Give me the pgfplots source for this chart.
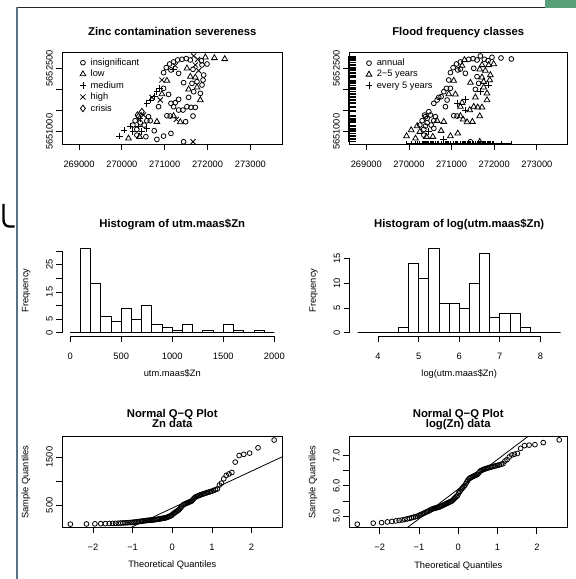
\documentclass[border=0pt]{standalone}
\usepackage{fontspec}
\setmainfont{Liberation Sans}
\usepackage{pgfplots}
\usepackage{pgfplotstable}
\pgfplotsset{compat=1.18}

\definecolor{barblue}{HTML}{5B7186}
\definecolor{tabgreen}{HTML}{5A9E7A}

\pgfdeclareplotmark{rugx}{\pgfpathmoveto{\pgfqpoint{0pt}{0pt}}\pgfpathlineto{\pgfqpoint{0pt}{2.8pt}}\pgfusepathqstroke}
\pgfdeclareplotmark{rugy}{\pgfpathmoveto{\pgfqpoint{0pt}{0pt}}\pgfpathlineto{\pgfqpoint{6.5pt}{0pt}}\pgfusepathqstroke}

% sample locations: x, y, zinc class (1 insignificant .. 5 crisis), flood class (1 annual, 2 2-5 yrs, 3 every 5 yrs)
\pgfplotstableread{
x y z f
271036 5652516 1 1
271114 5652602 1 1
271207 5652650 1 1
271301 5652697 1 2
271402 5652713 1 1
271504 5652729 1 1
271597 5652697 1 1
271675 5652792 4 1
271769 5652713 4 1
271855 5652681 1 1
271948 5652760 2 1
272159 5652744 2 1
272401 5652721 2 1
271987 5652602 1 2
271870 5652579 1 2
271714 5652579 4 2
271246 5652563 4 2
271207 5652484 3 1
271324 5652382 1 1
270973 5652398 1 1
271145 5652461 1 1
271519 5652500 2 1
271660 5652476 1 2
271792 5652445 4 2
271909 5652342 1 2
270934 5652224 4 1
271051 5652208 2 2
271597 5652303 2 1
271714 5652287 2 2
271894 5652224 1 2
271441 5652161 1 2
271636 5652145 1 1
271870 5652106 1 3
271753 5652051 2 2
271558 5652004 2 1
271675 5651948 1 3
271831 5651909 1 2
270880 5652027 3 1
270817 5651948 3 1
270934 5651893 2 2
271090 5651885 1 2
270755 5651830 3 1
270661 5651751 3 1
270583 5651673 3 1
270895 5651751 4 1
270700 5651814 4 1
271324 5651767 1 3
271558 5651814 1 2
271145 5651673 1 3
271246 5651688 1 2
270856 5651594 1 1
271426 5651515 1 2
271519 5651594 1 2
271613 5651578 1 2
271714 5651578 1 2
271660 5651373 1 2
271051 5651381 1 1
271129 5651373 1 1
271207 5651373 2 2
271270 5651294 4 2
271363 5651231 2 2
271488 5651239 1 2
271324 5651515 1 3
270466 5651476 5 1
270365 5651397 5 1
270505 5651397 4 1
270427 5651318 3 1
270310 5651263 1 1
270583 5651263 1 1
270661 5651263 1 2
270817 5651239 2 2
270427 5651216 1 1
270521 5651160 1 1
270256 5651160 1 1
270388 5651137 3 1
270193 5651137 3 2
270583 5651082 3 1
270349 5651058 1 1
270466 5651003 3 3
270053 5651042 3 2
270256 5651003 3 2
270755 5651026 1 2
270973 5650900 1 2
271145 5650963 1 2
270817 5650822 1 3
270560 5650885 1 2
270412 5650885 2 2
269944 5650900 3 2
270154 5650845 2 2
270349 5650924 1 1
271441 5650766 1 1
271660 5650766 4 2
270388 5651358 5 1
270622 5651357 1 1
271753 5652184 1 2
271831 5651751 2 2
271207 5651594 1 2
270973 5652027 1 1
}\meuse

\pgfplotsset{
  rplot/.style={
    scale only axis,
    anchor=south west,
    axis line style={line width=0.8pt},
    tick style={black, line width=0.8pt},
    tick align=outside,
    major tick length=6pt,
    xtick pos=left, ytick pos=left,
    scaled ticks=false,
    ticklabel style={font=\fontsize{9.3}{10}\selectfont},
    xticklabel style={anchor=north, inner xsep=0pt, inner ysep=10.5pt},
    yticklabel style={rotate=90, anchor=south, inner xsep=0pt, inner ysep=3.1pt},
    title style={font=\bfseries\fontsize{11.3}{12}\selectfont, at={(0.5,1)}, anchor=base, yshift=11.2pt, inner sep=0pt, align=center},
    xlabel style={font=\fontsize{9.3}{10}\selectfont, at={(0.5,0)}, anchor=base, yshift=-40.5pt, inner sep=0pt},
    ylabel style={font=\fontsize{9.3}{10}\selectfont, anchor=base, inner sep=0pt},
    legend style={draw=none, fill=none, anchor=north west, inner sep=0pt, row sep=-0.8pt, column sep=2.5pt,
      font=\fontsize{9.3}{10}\selectfont},
    legend cell align=left,
    clip mode=individual,
  },
}

\begin{document}
\begin{tikzpicture}
\useasboundingbox (0pt,0pt) rectangle (576pt,579pt);

% screenshot frame
\fill[tabgreen] (545pt,571pt) rectangle (576pt,579pt);
\draw[line width=1.4pt, black!85] (16pt,571.5pt) -- (545pt,571.5pt);
\draw[line width=2pt, barblue] (16.5pt,0pt) -- (16.5pt,571.5pt);
\draw[line width=2.4pt] (3.5pt,375pt) -- (3.5pt,359pt) to[out=-90,in=180] (9pt,352.5pt) -- (14.5pt,352.5pt);

% ---- Zinc contamination severeness
\begin{axis}[rplot,
  at={(62pt,434.7pt)}, width=220.5pt, height=91.6pt,
  xmin=268602, xmax=273749, ymin=5650706, ymax=5652869,
  xtick={269000,270000,271000,272000,273000},
  xticklabels={269000,270000,271000,272000,273000},
  ytick={5651000,5651500,5652000,5652500},
  yticklabels={5651000,,,5652500},
  title={Zinc contamination severeness},
  legend style={at={(0.079,0.96)}},
]
\addplot[only marks, line width=0.8pt, mark=o, mark size=2.4pt, black,
  restrict expr to domain={\thisrow{z}}{0.5:1.5}] table[x=x, y=y] {\meuse};
\addplot[only marks, line width=0.8pt, mark=triangle, mark size=3.3pt, black,
  restrict expr to domain={\thisrow{z}}{1.5:2.5}] table[x=x, y=y] {\meuse};
\addplot[only marks, line width=0.8pt, mark=+, mark size=3.3pt, black,
  restrict expr to domain={\thisrow{z}}{2.5:3.5}] table[x=x, y=y] {\meuse};
\addplot[only marks, line width=0.8pt, mark=x, mark size=3.6pt, black,
  restrict expr to domain={\thisrow{z}}{3.5:4.5}] table[x=x, y=y] {\meuse};
\addplot[only marks, line width=0.8pt, mark=diamond, mark size=3.3pt, black,
  restrict expr to domain={\thisrow{z}}{4.5:5.5}] table[x=x, y=y] {\meuse};
\legend{insignificant,low,medium,high,crisis}
\end{axis}

% ---- Flood frequency classes
\begin{axis}[rplot,
  at={(349pt,434.7pt)}, width=218.5pt, height=91.6pt,
  xmin=268595, xmax=273718, ymin=5650706, ymax=5652869,
  xtick={269000,270000,271000,272000,273000},
  xticklabels={269000,270000,271000,272000,273000},
  ytick={5651000,5651500,5652000,5652500},
  yticklabels={5651000,,,5652500},
  title={Flood frequency classes},
  legend style={at={(0.0755,0.955)}},
]
\addplot[only marks, line width=0.8pt, mark=o, mark size=2.4pt, black,
  restrict expr to domain={\thisrow{f}}{0.5:1.5}] table[x=x, y=y] {\meuse};
\addplot[only marks, line width=0.8pt, mark=triangle, mark size=3.3pt, black,
  restrict expr to domain={\thisrow{f}}{1.5:2.5}] table[x=x, y=y] {\meuse};
\addplot[only marks, line width=0.8pt, mark=+, mark size=3.3pt, black,
  restrict expr to domain={\thisrow{f}}{2.5:3.5}] table[x=x, y=y] {\meuse};
\legend{annual,2−5 years,every 5 years}
\addplot[only marks, mark=rugx, line width=0.8pt, black, forget plot] table[x=x, y expr=5650706] {\meuse};
\addplot[only marks, mark=rugy, line width=0.8pt, black, forget plot] table[x expr=268595, y=y] {\meuse};
\draw[line width=1.8pt] (axis cs:269944,5650706) -- (axis cs:272401,5650706);
\draw[line width=1.8pt] (axis cs:268595,5650766) -- (axis cs:268595,5652792);
\end{axis}

% ---- Histogram of Zn
\begin{axis}[rplot,
  at={(62pt,242.9pt)}, width=220.5pt, height=91pt,
  axis x line*=bottom, axis y line*=left,
  x axis line style={draw=none}, y axis line style={draw=none},
  xmin=-80, xmax=2080, ymin=-1.24, ymax=32.24,
  xtick={0,500,1000,1500,2000}, xticklabels={0,500,1000,1500,2000},
  ytick={0,5,10,15,20,25,30}, yticklabels={0,5,,15,,25,},
  title={Histogram of utm.maas\$Zn},
  xlabel={utm.maas\$Zn}, ylabel={Frequency},
  ylabel style={at={(-0.1528,0.5)}},
]
\addplot[ybar interval, fill=white, draw=black, line width=0.8pt] coordinates {
(0,0) (100,31) (200,18) (300,6) (400,4) (500,9) (600,5) (700,10) (800,3) (900,2)
(1000,1) (1100,3) (1200,0) (1300,1) (1400,0) (1500,3) (1600,1) (1700,0) (1800,1) (1900,0) (2000,0)};
\draw[line width=0.8pt] (axis cs:0,-1.24) -- (axis cs:2000,-1.24);
\draw[line width=0.8pt] (axis cs:-80,0) -- (axis cs:-80,30);
\end{axis}

% ---- Histogram of log(Zn)
\begin{axis}[rplot,
  at={(349.6pt,242.9pt)}, width=219.2pt, height=91pt,
  axis x line*=bottom, axis y line*=left,
  x axis line style={draw=none}, y axis line style={draw=none},
  xmin=3.3, xmax=8.7, ymin=-0.68, ymax=17.68,
  xtick={4,5,6,7,8}, xticklabels={4,5,6,7,8},
  ytick={0,5,10,15}, yticklabels={0,5,10,15},
  title={Histogram of log(utm.maas\$Zn)},
  xlabel={log(utm.maas\$Zn)}, ylabel={Frequency},
  ylabel style={at={(-0.1542,0.5)}},
]
\addplot[ybar interval, fill=white, draw=black, line width=0.8pt] coordinates {
(3.5,0) (3.75,0) (4.0,0) (4.25,0) (4.5,1) (4.75,14) (5.0,11) (5.25,17) (5.5,6) (5.75,6)
(6.0,5) (6.25,10) (6.5,16) (6.75,3) (7.0,4) (7.25,4) (7.5,1) (7.75,0) (8.0,0) (8.25,0) (8.5,0)};
\draw[line width=0.8pt] (axis cs:4,-0.68) -- (axis cs:8,-0.68);
\draw[line width=0.8pt] (axis cs:3.3,0) -- (axis cs:3.3,15);
\end{axis}

% ---- Normal Q-Q plot, Zn
\begin{axis}[rplot,
  at={(62pt,51.5pt)}, width=220.5pt, height=90.8pt,
  xmin=-2.78, xmax=2.78, ymin=43.5, ymax=1919.5,
  xtick={-2,-1,0,1,2}, xticklabels={−2,−1,0,1,2},
  ytick={500,1000,1500}, yticklabels={500,,1500},
  title={Normal Q−Q Plot\\[-2.2pt]Zn data},
  title style={anchor=south, yshift=-8.5pt},
  xlabel={Theoretical Quantiles}, ylabel={Sample Quantiles},
  ylabel style={at={(-0.1528,0.5)}},
]
\addplot[only marks, mark=o, mark size=2.4pt, line width=0.8pt, black] coordinates {
(-2.569,113) (-2.163,117) (-1.951,119) (-1.803,122) (-1.686,124) (-1.588,126) (-1.504,128)
(-1.429,130) (-1.361,132) (-1.299,135) (-1.242,137) (-1.188,140) (-1.138,142) (-1.091,145)
(-1.045,147) (-1.002,151) (-0.961,155) (-0.921,158) (-0.882,162) (-0.845,166) (-0.809,170)
(-0.774,173) (-0.740,177) (-0.707,181) (-0.674,185) (-0.643,189) (-0.611,191) (-0.581,193)
(-0.551,195) (-0.522,197) (-0.492,199) (-0.464,202) (-0.436,206) (-0.408,209) (-0.380,213)
(-0.353,217) (-0.326,220) (-0.299,224) (-0.273,228) (-0.246,232) (-0.220,236) (-0.194,239)
(-0.168,243) (-0.141,250) (-0.115,259) (-0.090,268) (-0.064,277) (-0.038,286) (-0.013,295)
(0.013,320) (0.038,335) (0.064,350) (0.090,365) (0.115,380) (0.141,395) (0.168,410)
(0.194,435) (0.220,460) (0.246,485) (0.273,510) (0.299,522) (0.326,532) (0.353,542)
(0.380,552) (0.408,562) (0.436,572) (0.464,582) (0.492,592) (0.522,620) (0.551,650)
(0.581,670) (0.611,682) (0.643,694) (0.674,705) (0.707,715) (0.740,725) (0.774,735)
(0.809,745) (0.845,755) (0.882,765) (0.921,775) (0.961,785) (1.002,795) (1.045,810)
(1.091,825) (1.138,840) (1.188,920) (1.242,960) (1.299,1050) (1.361,1120) (1.429,1150)
(1.504,1180) (1.588,1395) (1.686,1530) (1.803,1555) (1.951,1580) (2.163,1690) (2.569,1850)};
\addplot[no marks, line width=0.8pt, black] coordinates {(-2.78,-619) (2.78,1507)};
\end{axis}

% ---- Normal Q-Q plot, log(Zn)
\begin{axis}[rplot,
  at={(349pt,51.4pt)}, width=218.5pt, height=91.1pt,
  xmin=-2.78, xmax=2.78, ymin=4.615, ymax=7.635,
  xtick={-2,-1,0,1,2}, xticklabels={−2,−1,0,1,2},
  ytick={5,5.5,6,6.5,7}, yticklabels={5.0,,6.0,,7.0},
  title={Normal Q−Q Plot\\[-2.2pt]log(Zn) data},
  title style={anchor=south, yshift=-10.9pt},
  xlabel={Theoretical Quantiles}, ylabel={Sample Quantiles},
  ylabel style={at={(-0.1542,0.5)}},
]
\addplot[only marks, mark=o, mark size=2.4pt, line width=0.8pt, black] coordinates {
(-2.569,4.727) (-2.163,4.762) (-1.951,4.779) (-1.803,4.804) (-1.686,4.820) (-1.588,4.836)
(-1.504,4.852) (-1.429,4.868) (-1.361,4.883) (-1.299,4.905) (-1.242,4.920) (-1.188,4.942)
(-1.138,4.956) (-1.091,4.977) (-1.045,4.990) (-1.002,5.017) (-0.961,5.043) (-0.921,5.063)
(-0.882,5.088) (-0.845,5.112) (-0.809,5.136) (-0.774,5.153) (-0.740,5.176) (-0.707,5.198)
(-0.674,5.220) (-0.643,5.242) (-0.611,5.252) (-0.581,5.263) (-0.551,5.273) (-0.522,5.283)
(-0.492,5.293) (-0.464,5.308) (-0.436,5.328) (-0.408,5.342) (-0.380,5.361) (-0.353,5.380)
(-0.326,5.394) (-0.299,5.412) (-0.273,5.429) (-0.246,5.447) (-0.220,5.464) (-0.194,5.476)
(-0.168,5.493) (-0.141,5.521) (-0.115,5.557) (-0.090,5.591) (-0.064,5.624) (-0.038,5.656)
(-0.013,5.687) (0.013,5.768) (0.038,5.814) (0.064,5.858) (0.090,5.900) (0.115,5.940)
(0.141,5.979) (0.168,6.016) (0.194,6.075) (0.220,6.131) (0.246,6.184) (0.273,6.234)
(0.299,6.258) (0.326,6.277) (0.353,6.295) (0.380,6.313) (0.408,6.332) (0.436,6.349)
(0.464,6.366) (0.492,6.384) (0.522,6.430) (0.551,6.477) (0.581,6.507) (0.611,6.525)
(0.643,6.542) (0.674,6.558) (0.707,6.572) (0.740,6.586) (0.774,6.600) (0.809,6.613)
(0.845,6.627) (0.882,6.640) (0.921,6.653) (0.961,6.666) (1.002,6.678) (1.045,6.697)
(1.091,6.715) (1.138,6.733) (1.188,6.824) (1.242,6.867) (1.299,6.957) (1.361,7.021)
(1.429,7.048) (1.504,7.073) (1.588,7.241) (1.686,7.333) (1.803,7.349) (1.951,7.365)
(2.163,7.432) (2.569,7.523)};
\addplot[no marks, line width=0.8pt, black] coordinates {(-2.78,3.152) (2.78,8.628)};
\end{axis}
\end{tikzpicture}
\end{document}
